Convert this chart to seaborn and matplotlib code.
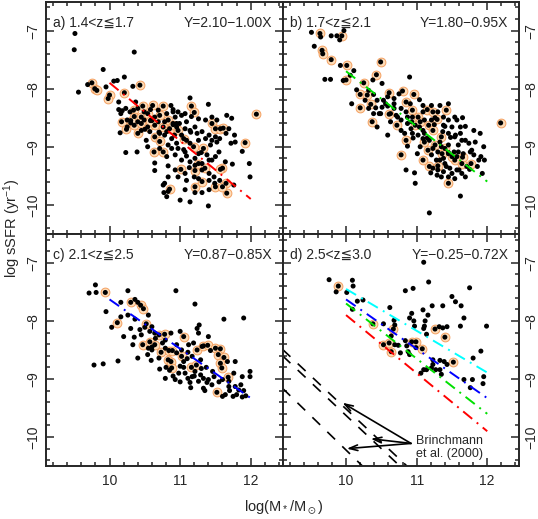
import numpy as np
import pandas as pd
import matplotlib
matplotlib.use('Agg')
import matplotlib.pyplot as plt
from matplotlib.ticker import MultipleLocator
import seaborn as sns

# ---- panel a) 1.4<z<=1.7 : plain dots and dots with orange ring ----
a_x = [9.51, 9.50, 10.35, 9.91, 9.56, 9.69, 9.95, 10.06, 10.11, 10.21, 10.13, 10.33,
       10.37, 11.14, 11.40, 10.23, 10.40, 10.87, 10.16, 10.64, 10.81, 10.93, 11.02, 11.09,
       10.99, 10.25, 11.07, 11.21, 11.31, 11.41, 11.50, 10.15, 10.52, 10.78, 10.88, 10.83,
       10.95, 11.14, 11.26, 11.43, 11.55, 10.88, 10.23, 10.39, 10.81, 10.93, 11.02, 11.09,
       11.21, 11.31, 11.41, 10.83, 11.13, 10.64, 10.64, 10.97, 11.09, 11.41, 11.56, 11.20,
       10.76, 10.77, 10.81, 11.00, 11.14, 11.40, 11.66, 11.73, 11.65, 11.69, 11.77, 11.78,
       11.72, 11.88, 11.74, 11.98, 11.99, 11.64, 11.76, 11.52, 11.56, 11.45, 11.50, 11.48,
       11.41, 11.49, 10.78, 10.83, 10.60, 10.70, 10.95, 11.05, 11.30, 10.50, 10.90, 11.15,
       10.13, 10.18, 10.29, 10.49, 10.58, 10.69, 10.90, 10.97, 11.07, 11.16, 11.26, 11.36,
       11.45, 11.52, 10.25, 10.30, 10.40, 10.49, 10.59, 10.69, 10.78, 10.90, 10.95, 11.14,
       11.24, 11.36, 11.45, 10.45, 10.57, 10.71, 10.81, 10.92, 11.02, 11.09, 10.54, 10.71,
       10.97, 11.07, 11.26, 11.38, 11.14, 11.21, 11.31, 10.93, 10.83, 11.07, 11.26, 11.41,
       11.31, 11.21, 11.07]
a_y = [-7.05, -7.33, -7.37, -7.67, -8.06, -7.93, -7.97, -7.87, -7.86, -7.80, -8.23, -7.96,
       -8.23, -8.16, -8.27, -8.34, -8.34, -8.29, -8.43, -8.49, -8.43, -8.49, -8.46, -8.57,
       -8.60, -8.66, -8.69, -8.66, -8.74, -8.80, -8.83, -8.76, -8.89, -8.80, -8.86, -8.97,
       -8.94, -8.94, -8.89, -8.97, -9.09, -9.03, -9.10, -9.09, -9.17, -9.14, -9.23, -9.16,
       -9.20, -9.29, -9.23, -9.33, -9.36, -9.28, -9.41, -9.52, -9.58, -9.58, -9.58, -9.52,
       -9.66, -9.79, -9.86, -9.92, -9.95, -10.02, -8.46, -8.51, -8.77, -8.69, -8.80, -8.92,
       -8.94, -9.08, -9.30, -9.29, -9.52, -9.26, -9.66, -8.92, -8.86, -9.23, -9.17, -9.52,
       -9.46, -9.63, -9.63, -9.77, -8.55, -8.75, -8.60, -9.05, -9.10, -8.70, -8.40, -8.75,
       -8.36, -8.38, -8.40, -8.40, -8.36, -8.37, -8.36, -8.40, -8.43, -8.48, -8.52, -8.54,
       -8.49, -8.54, -8.54, -8.59, -8.57, -8.54, -8.54, -8.57, -8.57, -8.60, -8.66, -8.72,
       -8.77, -8.86, -8.89, -8.72, -8.74, -8.77, -8.74, -8.80, -8.80, -8.89, -9.00, -9.03,
       -9.03, -9.09, -9.12, -9.14, -9.26, -9.32, -9.40, -9.40, -9.52, -9.46, -9.55, -9.74,
       -9.79, -9.79, -9.74]
a_rx = [9.75, 9.79, 9.82, 10.00, 9.98, 10.21, 10.43, 11.16, 11.20, 10.34, 10.47, 10.61,
        10.76, 10.35, 10.45, 10.54, 10.71, 10.83, 10.17, 10.24, 10.35, 10.45, 10.54, 10.64,
        10.76, 10.85, 10.97, 11.45, 11.50, 11.57, 10.40, 10.64, 10.71, 11.05, 11.19, 11.33,
        10.63, 10.76, 11.01, 11.21, 11.21, 11.31, 11.50, 10.85, 12.08, 11.92, 11.60, 11.65,
        11.66, 11.60, 11.61, 11.57, 11.26, 11.35, 10.30, 10.58, 10.90]
a_ry = [-7.90, -8.00, -8.03, -8.11, -8.17, -8.07, -7.94, -8.30, -8.41, -8.37, -8.30, -8.29,
        -8.30, -8.48, -8.49, -8.43, -8.46, -8.54, -8.57, -8.70, -8.63, -8.60, -8.66, -8.63,
        -8.66, -8.69, -8.72, -8.60, -8.69, -8.69, -8.77, -8.83, -8.91, -8.86, -9.00, -9.03,
        -9.09, -9.09, -9.39, -9.41, -9.69, -9.60, -9.69, -9.73, -8.44, -8.93, -9.37, -9.63,
        -9.80, -9.69, -8.68, -9.39, -9.29, -9.37, -8.55, -8.55, -8.62]

# ---- panel b) 1.7<z<=2.1 ----
b_x = [9.51, 9.64, 9.79, 9.87, 9.97, 9.91, 9.55, 9.92, 9.70, 9.78, 10.06, 10.11, 9.96,
       10.38, 10.51, 10.15, 10.32, 10.39, 10.27, 10.44, 10.08, 10.68, 10.75, 10.90, 11.04,
       10.91, 10.59, 10.49, 10.44, 10.73, 10.59, 10.83, 10.87, 10.85, 10.98, 10.97, 11.01,
       11.09, 11.30, 11.45, 11.09, 11.37, 11.50, 11.57, 11.65, 11.69, 11.81, 11.90, 11.95,
       11.28, 11.33, 11.45, 11.53, 11.59, 11.71, 11.81, 11.88, 11.91, 11.86, 11.35, 11.45,
       11.50, 11.29, 11.23, 11.62, 11.18, 11.75, 11.38, 11.11, 10.87, 10.68, 10.56, 10.42,
       10.53, 10.63, 10.78, 10.92, 10.93, 11.26, 11.38, 11.62, 11.69, 11.59, 11.42, 11.21,
       11.48, 11.78, 11.96, 11.93, 11.15, 11.25, 11.40, 11.55, 11.35, 11.45, 11.20, 11.60,
       11.05, 10.95,
       11.09, 11.21, 11.33, 11.38, 11.45, 11.54, 11.62, 11.45, 11.54, 11.64, 11.74, 11.83,
       11.76, 11.66, 11.57, 11.45, 11.30, 11.23, 11.18, 11.09, 11.02, 10.94, 11.04, 11.11,
       11.21, 10.87, 10.78, 10.71, 10.63, 10.51, 10.47, 10.39, 10.32, 10.59, 10.68, 10.78,
       10.85, 10.94, 11.33, 11.40, 11.47, 11.57, 11.64, 11.38, 11.30, 11.69, 11.54]
b_y = [-7.03, -7.11, -7.09, -7.09, -7.00, -7.16, -7.27, -7.60, -7.84, -7.84, -7.77, -7.69,
       -7.86, -7.85, -7.91, -8.02, -8.03, -8.10, -8.20, -8.20, -8.26, -8.17, -8.09, -7.80,
       -8.19, -8.26, -8.30, -8.43, -8.66, -8.49, -8.80, -8.77, -8.99, -9.40, -9.63, -9.45,
       -9.12, -8.40, -8.40, -8.26, -8.72, -8.74, -8.66, -8.54, -8.50, -8.65, -8.72, -8.77,
       -9.00, -9.23, -8.92, -8.97, -9.09, -8.97, -9.34, -9.14, -9.23, -9.17, -9.34, -9.52,
       -9.52, -9.46, -9.49, -9.37, -9.85, -10.14, -9.39, -9.20, -8.77, -8.49, -8.34, -8.26,
       -8.33, -8.20, -8.57, -8.72, -8.69, -8.57, -8.50, -8.49, -8.77, -8.89, -9.09, -9.34,
       -9.14, -8.84, -9.06, -9.23, -9.46, -8.85, -8.62, -8.65, -8.80, -9.00, -9.10, -9.45,
       -9.40, -9.00, -8.85,
       -8.29, -8.29, -8.29, -8.63, -8.54, -8.49, -8.66, -8.77, -8.83, -8.89, -8.94, -8.92,
       -9.09, -9.12, -9.17, -9.12, -9.09, -9.03, -8.89, -8.86, -8.80, -8.77, -8.66, -8.54,
       -8.54, -8.60, -8.54, -8.46, -8.43, -8.32, -8.43, -8.43, -8.34, -8.14, -8.26, -8.34,
       -8.40, -8.49, -9.23, -9.29, -9.37, -9.40, -9.46, -9.43, -9.40, -9.52, -9.55]
b_rx = [9.63, 9.94, 9.66, 9.67, 9.79, 10.49, 10.01, 10.00, 10.43, 10.25, 10.20, 10.35,
        10.20, 10.61, 10.80, 10.96, 10.85, 10.61, 10.37, 10.72, 10.85, 10.78, 10.98, 11.02,
        11.15, 11.23, 11.42, 11.29, 11.17, 11.23, 12.19, 11.11, 11.16, 11.18, 11.30, 11.26,
        11.40, 11.36, 11.54, 11.64, 11.45, 11.77, 11.65, 11.50, 11.05, 10.94, 10.30, 11.09,
        11.35]
b_ry = [-7.05, -7.09, -7.34, -7.40, -7.50, -7.54, -7.60, -7.85, -7.76, -7.90, -8.10, -8.27,
        -8.33, -8.07, -8.04, -8.10, -8.23, -8.44, -8.57, -8.63, -8.89, -9.14, -8.63, -8.49,
        -8.36, -8.40, -8.37, -8.53, -8.63, -8.72, -8.59, -8.92, -9.06, -9.34, -9.33, -8.97,
        -9.03, -9.12, -9.23, -9.29, -9.63, -9.29, -9.18, -9.17, -8.57, -8.37, -8.11, -9.23,
        -8.83]

# ---- panel c) 2.1<z<=2.5 ----
c_x = [9.80, 9.71, 9.81, 10.26, 10.94, 11.21, 10.36, 10.40, 10.16, 9.95, 10.03, 10.16,
       10.26, 10.36, 10.55, 10.50, 10.43, 10.30, 10.35, 10.45, 10.60, 10.57, 10.64, 10.87,
       11.00, 11.24, 11.27, 11.26, 11.40, 11.62, 11.90, 10.55, 10.60, 10.79, 10.95, 11.02,
       11.11, 11.17, 11.31, 11.43, 11.67, 11.78, 10.71, 10.59, 10.40, 10.12, 9.91, 10.93,
       11.07, 11.11, 11.21, 11.29, 11.33, 11.40, 11.33, 11.38, 11.48, 11.76, 11.88, 11.99,
       11.99, 11.64, 11.80, 11.83, 11.86, 11.93, 11.78, 11.69, 11.17, 11.05, 11.00, 10.98,
       10.70, 10.33, 10.20, 10.54, 10.79, 11.12, 11.19, 11.29, 10.79, 11.37, 11.46, 11.26,
       11.14, 11.60, 11.69, 9.78, 11.88,
       10.65, 10.75, 10.95, 11.05, 11.10, 11.20, 11.30, 11.45, 11.55, 11.70, 11.75, 10.85,
       10.90, 11.00, 11.15, 10.60, 10.80, 11.35, 11.60, 11.90]
c_y = [-7.38, -7.52, -7.51, -7.48, -7.48, -7.71, -7.63, -7.68, -7.68, -7.84, -8.11, -7.93,
       -7.90, -7.97, -7.90, -8.11, -8.15, -8.13, -8.28, -8.24, -8.10, -8.18, -8.21, -8.21,
       -8.18, -8.13, -8.07, -8.21, -8.27, -7.97, -7.95, -8.47, -8.50, -8.47, -8.41, -8.50,
       -8.54, -8.61, -8.44, -8.51, -8.70, -8.70, -8.83, -8.68, -8.64, -8.69, -8.74, -9.01,
       -8.90, -8.99, -8.87, -8.93, -8.99, -9.01, -9.16, -9.06, -8.96, -8.90, -8.96, -8.87,
       -8.96, -9.27, -9.27, -9.19, -9.10, -9.29, -9.13, -9.13, -8.96, -8.70, -8.78, -8.90,
       -8.64, -8.41, -8.27, -8.58, -8.33, -8.41, -8.38, -8.67, -8.99, -8.80, -8.87, -9.04,
       -9.06, -9.01, -9.04, -8.76, -9.31,
       -8.30, -8.38, -8.55, -8.80, -8.65, -8.95, -8.82, -9.10, -9.05, -9.20, -9.30, -8.85,
       -8.95, -9.05, -9.15, -8.45, -8.80, -9.20, -9.30, -9.20]
c_rx = [9.94, 10.30, 10.44, 10.48, 10.11, 10.52, 10.70, 10.78, 11.05, 10.47, 10.57, 10.64,
        10.73, 10.84, 10.89, 11.02, 11.24, 11.33, 11.39, 11.50, 11.57, 11.54, 11.62, 11.57,
        10.83, 10.87, 10.88, 11.16, 11.23, 11.59, 11.68, 11.52]
c_ry = [-7.51, -7.68, -7.73, -7.79, -8.03, -8.05, -8.24, -8.23, -8.27, -8.41, -8.36, -8.41,
        -8.54, -8.51, -8.51, -8.61, -8.50, -8.43, -8.42, -8.47, -8.48, -8.58, -8.63, -8.73,
        -8.67, -8.70, -8.81, -8.80, -8.76, -8.81, -8.97, -9.23]

# ---- panel d) 2.5<z<=3.0 ----
d_x = [9.76, 9.86, 10.01, 10.09, 10.10, 11.10, 11.17, 10.84, 10.95, 11.75, 11.50, 11.55,
       11.63, 10.16, 10.24, 10.09, 10.62, 11.22, 11.37, 10.93, 11.09, 11.16, 10.90, 10.96,
       10.97, 11.12, 11.11, 11.10, 11.32, 11.37, 11.43, 11.62, 11.67, 11.99, 10.53, 10.69,
       10.68, 10.64, 10.69, 10.74, 10.77, 10.84, 10.86, 10.88, 10.90, 10.99, 11.14, 11.23,
       11.23, 11.33, 11.39, 11.43, 11.27, 11.33, 11.35, 11.14, 11.10, 11.06, 11.21, 11.67,
       11.79, 11.80, 11.91, 11.95, 11.94, 11.76]
d_y = [-7.29, -7.50, -7.51, -7.30, -7.40, -6.99, -7.33, -7.48, -7.44, -7.43, -7.58, -7.67,
       -7.74, -7.66, -7.64, -7.80, -7.77, -7.74, -7.74, -7.87, -7.81, -7.90, -7.95, -8.00,
       -8.09, -8.00, -8.09, -8.13, -8.10, -8.12, -8.10, -8.09, -7.95, -8.09, -8.05, -8.07,
       -7.99, -8.26, -8.41, -8.42, -8.55, -8.34, -8.43, -8.53, -8.58, -8.46, -8.23, -8.67,
       -8.75, -8.68, -8.70, -8.75, -8.84, -8.84, -8.92, -8.84, -8.84, -8.90, -8.81, -9.01,
       -9.01, -8.64, -8.52, -8.96, -9.08, -9.15]
d_rx = [9.89, 10.38, 10.67, 10.53, 10.61, 10.64, 10.93, 10.99, 11.08, 11.26, 11.40, 11.52]
d_ry = [-7.40, -8.05, -8.14, -8.41, -8.38, -8.53, -8.36, -8.36, -8.48, -8.14, -8.28, -8.71]

# fits Y = A + B X (labels in the panels); panel d repeats all of them
fit_a = [2.10, 1.80, 0.87, -0.25]
fit_b = [-1.00, -0.95, -0.85, -0.72]
fit_colors = ['#ff0000', '#00e000', '#0000ff', '#00ffff']
fit_labels = ['Y=2.10\u22121.00X', 'Y=1.80\u22120.95X', 'Y=0.87\u22120.85X', 'Y=\u22120.25\u22120.72X']
panel_tags = ['a) 1.4<z\u22661.7', 'b) 1.7<z\u22662.1', 'c) 2.1<z\u22662.5', 'd) 2.5<z\u22663.0']

# Brinchmann et al. (2000) dashed lines (start / end points) and arrow tips
br_x0 = [9.1, 9.1, 9.1]
br_y0 = [-8.49, -8.60, -9.16]
br_x1 = [10.88, 10.78, 10.25]
br_y1 = [-10.52, -10.52, -10.52]
arrow_x = [9.95, 10.35, 10.01]
arrow_y = [-9.41, -10.03, -10.20]

sns.set_style('ticks')
plt.rcParams['font.family'] = ['Liberation Sans', 'DejaVu Sans', 'Noto Sans CJK JP']
plt.rcParams['mathtext.default'] = 'regular'

fig, axes = plt.subplots(2, 2, figsize=(5.38, 5.19), dpi=100, sharex=True, sharey=True)
fig.subplots_adjust(left=0.0855, right=0.9647, bottom=0.102, top=0.997, hspace=0, wspace=0)

panels = [(a_x, a_y, a_rx, a_ry), (b_x, b_y, b_rx, b_ry),
          (c_x, c_y, c_rx, c_ry), (d_x, d_y, d_rx, d_ry)]
dashdot = (0, (6, 3, 1, 3))

for i, ax in enumerate(axes.flat):
    px, py, rx, ry = panels[i]
    ring = pd.DataFrame({'x': rx, 'y': ry})
    dots = pd.DataFrame({'x': px + rx, 'y': py + ry})
    sns.scatterplot(data=ring, x='x', y='y', ax=ax, s=40, color='#fddcb8',
                    edgecolor='#f4a060', linewidth=0.7, zorder=2)
    sns.scatterplot(data=dots, x='x', y='y', ax=ax, s=13, color='black',
                    edgecolor='none', linewidth=0, zorder=3)
    fx = np.array([10.0, 12.0])
    if i < 3:
        ax.plot(fx, fit_a[i] + fit_b[i] * fx, color=fit_colors[i], lw=1.4,
                linestyle=dashdot, zorder=4)
    else:
        for a, b, c in zip(fit_a, fit_b, fit_colors):
            ax.plot(fx, a + b * fx, color=c, lw=1.4, linestyle=dashdot, zorder=4)
        for x0, y0, x1, y1 in zip(br_x0, br_y0, br_x1, br_y1):
            ax.plot([x0, x1], [y0, y1], color='black', lw=1.2, linestyle=(0, (6.5, 6)))
        for hx, hy in zip(arrow_x, arrow_y):
            ax.annotate('', xy=(hx, hy), xytext=(10.92, -10.11),
                        arrowprops=dict(arrowstyle='->,head_length=0.6,head_width=0.2',
                                        color='black', lw=1.2, shrinkA=0, shrinkB=0))
        ax.text(11.47, -10.18, 'Brinchmann\net al. (2000)', ha='center', va='center',
                fontsize=9, linespacing=1.15)

    ax.text(0.03, 0.908, panel_tags[i], transform=ax.transAxes, fontsize=10, va='center', ha='left')
    ax.text(0.955, 0.908, fit_labels[i], transform=ax.transAxes, fontsize=10, va='center', ha='right')

    ax.set_xlim(9.1, 12.45)
    ax.set_ylim(-10.5, -6.5)
    ax.xaxis.set_major_locator(MultipleLocator(1))
    ax.xaxis.set_minor_locator(MultipleLocator(0.2))
    ax.yaxis.set_major_locator(MultipleLocator(1))
    ax.yaxis.set_minor_locator(MultipleLocator(0.2))
    ax.set_xlabel('')
    ax.set_ylabel('')
    ax.tick_params(which='both', direction='in', top=True, bottom=True, left=True, right=True,
                   width=1.1, labelsize=10)
    ax.tick_params(which='major', length=5.5)
    ax.tick_params(which='minor', length=3)
    ax.tick_params(axis='y', labelrotation=90, pad=4)
    ax.tick_params(axis='x', pad=6)
    right = (i % 2 == 1)
    ax.tick_params(axis='y', labelleft=not right, labelright=right)
    ax.tick_params(axis='x', labelbottom=(i >= 2))
    for s in ax.spines.values():
        s.set_linewidth(1.4)

for ax in axes.flat:
    for lab in ax.get_yticklabels():
        lab.set_va('center')

fig.text(0.022, 0.56, 'log sSFR (yr$^{-1}$)', rotation=90, ha='center', va='center', fontsize=10.5)
fig.text(0.528, 0.021, r'log(M$_*$/M$_\odot$)', ha='center', va='center', fontsize=10.5)

fig.savefig('out.png', dpi=100)
